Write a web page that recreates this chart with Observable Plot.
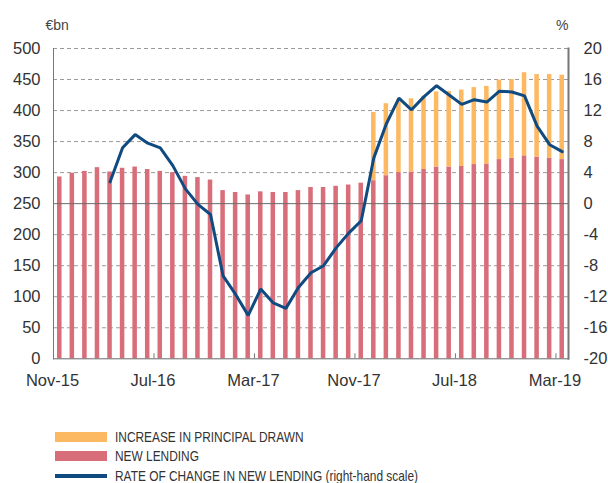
<!DOCTYPE html>
<html>
<head>
<meta charset="utf-8">
<script src="https://cdn.jsdelivr.net/npm/d3@7"></script>
<script src="https://cdn.jsdelivr.net/npm/@observablehq/plot@0.6"></script>
<style>
  body { margin: 0; background: #fff; font-family: "Liberation Sans", Arial, sans-serif; }
  #chart svg { display: block; }
  .legend { margin-top: 27px; font-family: "Liberation Sans", Arial, sans-serif; font-size: 14.5px; color: #333; }
  .legend .row { display: flex; align-items: center; height: 19.5px; white-space: nowrap; }
  .legend .sw { width: 52px; margin-left: 55px; margin-right: 8px; flex: none; }
  .legend .tx { display: inline-block; transform: scaleX(0.82); transform-origin: left center; }
</style>
</head>
<body>
<div id="chart"></div>
<script>
const months = ["Nov-15","Dec-15","Jan-16","Feb-16","Mar-16","Apr-16","May-16","Jun-16","Jul-16","Aug-16","Sep-16","Oct-16","Nov-16","Dec-16",
  "Jan-17","Feb-17","Mar-17","Apr-17","May-17","Jun-17","Jul-17","Aug-17","Sep-17","Oct-17","Nov-17","Dec-17",
  "Jan-18","Feb-18","Mar-18","Apr-18","May-18","Jun-18","Jul-18","Aug-18","Sep-18","Oct-18","Nov-18","Dec-18",
  "Jan-19","Feb-19","Mar-19"];
const newLending = [293,299,302,308,301,307,309,305,302,300,294,292,288,271,268,264,269,268,268,271,276,276,278,280,283,
  287,295,300,301,305,309,309,310,313,314,321,323,327,325,323,321];
const increaseStart = "Dec-17";
const principalIncrease = [110,116,117,118,118,121,122,123,124,125,128,127,134,133,135,136];
const rateStart = "Mar-16";
const rateOfChange = [2.8,7.2,8.9,7.8,7.2,4.9,1.9,-0.1,-1.4,-9.3,-11.7,-14.4,-11.0,-12.8,-13.5,-10.8,-8.9,-8.0,-5.7,-3.8,-2.2,
  5.9,10.3,13.6,12.1,13.8,15.2,14.0,12.8,13.4,13.1,14.5,14.4,13.9,10.0,7.6,6.7];
const xTicks = ["Nov-15","Jul-16","Mar-17","Nov-17","Jul-18","Mar-19"];
const leftTicks = [0,50,100,150,200,250,300,350,400,450,500];
const seriesNames = ["NEW LENDING","INCREASE IN PRINCIPAL DRAWN","RATE OF CHANGE IN NEW LENDING (right-hand scale)"];
const colors = {"NEW LENDING": "#d86e7a", "INCREASE IN PRINCIPAL DRAWN": "#fdb862", "RATE": "#0f4a80"};

// right-hand scale: -20..20 mapped onto 0..500
const rightToLeft = r => 250 + r * 12.5;
const leftToRight = v => (v - 250) / 12.5;

const i0 = months.indexOf(increaseStart);
const r0 = months.indexOf(rateStart);
const bars = [
  ...newLending.map((v, i) => ({month: months[i], series: seriesNames[0], value: v})),
  ...principalIncrease.map((v, i) => ({month: months[i0 + i], series: seriesNames[1], value: v}))
];
const rates = rateOfChange.map((r, i) => ({month: months[r0 + i], rate: r}));

const step = (608 - 53 - 40) / months.length;

const chart = Plot.plot({
  width: 608,
  height: 400,
  marginTop: 48,
  marginBottom: 41.7,
  marginLeft: 53,
  marginRight: 40,
  style: {fontFamily: "'Liberation Sans', Arial, sans-serif", fontSize: "16.5px", color: "#333", background: "#fff"},
  x: {domain: months, type: "band", paddingInner: 0.64, paddingOuter: 0.32, round: false, axis: null},
  y: {domain: [0, 500], axis: null},
  color: {domain: [seriesNames[0], seriesNames[1]], range: [colors["NEW LENDING"], colors["INCREASE IN PRINCIPAL DRAWN"]]},
  marks: [
    Plot.ruleY(leftTicks.filter(d => d !== 0 && d !== 250), {stroke: "#9a9a9a", strokeDasharray: "4,3"}),
    Plot.barY(bars, {x: "month", y: "value", fill: "series", order: seriesNames.slice(0, 2)}),
    Plot.ruleY([250], {stroke: "#6a6a6a"}),
    Plot.ruleY([0], {stroke: "#6a6a6a"}),
    Plot.frame({anchor: "left", stroke: "#777"}),
    Plot.frame({anchor: "right", stroke: "#777", strokeWidth: 2}),
    Plot.ruleX(xTicks, {x: d => d, y1: 0, y2: 8, dx: -step / 2, stroke: "#777"}),
    Plot.line(rates, {x: "month", y: d => rightToLeft(d.rate), stroke: colors.RATE, strokeWidth: 3, strokeLinejoin: "miter"}),
    Plot.text(xTicks, {x: d => d, frameAnchor: "bottom", lineAnchor: "middle", dy: 22, dx: -step / 2 - 1, fill: "#333"}),
    Plot.axisY({anchor: "left", ticks: leftTicks, tickSize: 0, tickPadding: 13, label: null, fill: "#333"}),
    Plot.axisY({anchor: "right", ticks: leftTicks, tickSize: 0, tickPadding: 15, tickFormat: leftToRight, label: null, fill: "#333"}),
    Plot.text(["€bn"], {frameAnchor: "top-left", textAnchor: "start", dx: -8, dy: -28, fontSize: 14, fill: "#444"}),
    Plot.text(["%"], {frameAnchor: "top-right", textAnchor: "end", dx: 0, dy: -28, fontSize: 14, fill: "#444"})
  ]
});
document.getElementById("chart").appendChild(chart);

// legend
const legend = document.createElement("div");
legend.className = "legend";
const legendItems = [
  {label: seriesNames[1], color: colors["INCREASE IN PRINCIPAL DRAWN"], h: 10},
  {label: seriesNames[0], color: colors["NEW LENDING"], h: 10},
  {label: seriesNames[2], color: colors.RATE, h: 4}
];
for (const it of legendItems) {
  const row = document.createElement("div");
  row.className = "row";
  const sw = document.createElement("span");
  sw.className = "sw";
  sw.style.height = it.h + "px";
  sw.style.background = it.color;
  const tx = document.createElement("span");
  tx.className = "tx";
  tx.textContent = it.label;
  row.appendChild(sw); row.appendChild(tx);
  legend.appendChild(row);
}
document.getElementById("chart").appendChild(legend);
</script>
</body>
</html>
